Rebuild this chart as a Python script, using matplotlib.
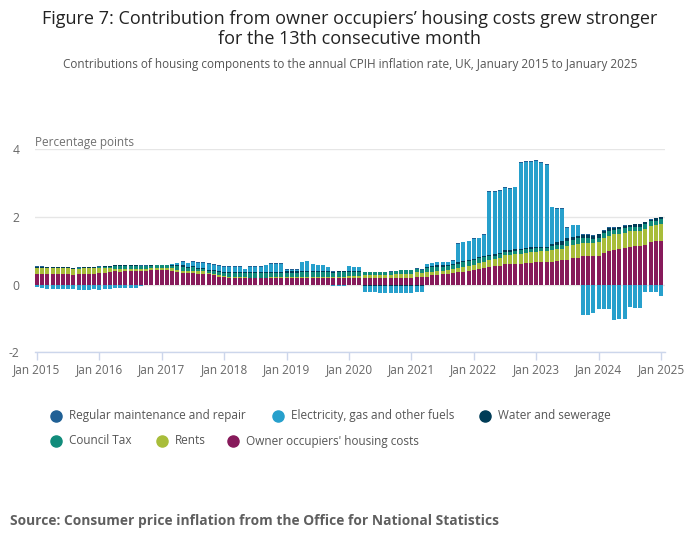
import matplotlib
matplotlib.use("Agg")
import matplotlib.pyplot as plt
import numpy as np
from matplotlib.lines import Line2D

plt.rcParams['font.family'] = ['Open Sans', 'DejaVu Sans']

# ---------------- data (percentage points), Jan 2015 .. Jan 2025 ----------------
tick_labels = ["Jan 2015", "Jan 2016", "Jan 2017", "Jan 2018", "Jan 2019", "Jan 2020",
               "Jan 2021", "Jan 2022", "Jan 2023", "Jan 2024", "Jan 2025"]

owner_occupiers = [
    0.32, 0.32, 0.32, 0.32, 0.32, 0.32, 0.32, 0.29, 0.30, 0.32, 0.32, 0.32,
    0.34, 0.35, 0.38, 0.41, 0.38, 0.40, 0.40, 0.40, 0.40, 0.41, 0.43, 0.44,
    0.44, 0.44, 0.41, 0.36, 0.35, 0.35, 0.35, 0.32, 0.32, 0.30, 0.27, 0.24,
    0.23, 0.21, 0.21, 0.21, 0.20, 0.19, 0.19, 0.19, 0.19, 0.20, 0.20, 0.20,
    0.20, 0.20, 0.20, 0.20, 0.20, 0.20, 0.20, 0.20, 0.20, 0.20, 0.20, 0.20,
    0.20, 0.20, 0.20, 0.20, 0.20, 0.20, 0.19, 0.19, 0.20, 0.20, 0.20, 0.20,
    0.20, 0.24, 0.24, 0.24, 0.27, 0.27, 0.30, 0.30, 0.33, 0.36, 0.38, 0.41,
    0.44, 0.47, 0.50, 0.53, 0.55, 0.56, 0.61, 0.61, 0.61, 0.61, 0.64, 0.64,
    0.67, 0.67, 0.67, 0.68, 0.70, 0.73, 0.73, 0.79, 0.79, 0.85, 0.85, 0.85,
    0.85, 0.94, 1.00, 1.03, 1.06, 1.09, 1.12, 1.14, 1.14, 1.17, 1.25, 1.29,
    1.29]

rents = [
    0.16, 0.16, 0.16, 0.16, 0.16, 0.16, 0.16, 0.16, 0.16, 0.16, 0.16, 0.16,
    0.15, 0.15, 0.12, 0.06, 0.08, 0.07, 0.07, 0.06, 0.06, 0.06, 0.06, 0.05,
    0.05, 0.05, 0.08, 0.06, 0.06, 0.06, 0.06, 0.07, 0.07, 0.03, 0.03, 0.03,
    0.02, 0.02, 0.02, 0.02, 0.02, 0.02, 0.02, 0.02, 0.02, 0.02, 0.02, 0.02,
    0.04, 0.04, 0.04, 0.04, 0.04, 0.04, 0.04, 0.04, 0.04, 0.04, 0.04, 0.04,
    0.05, 0.05, 0.05, 0.07, 0.07, 0.07, 0.08, 0.08, 0.08, 0.10, 0.12, 0.12,
    0.12, 0.12, 0.11, 0.12, 0.11, 0.12, 0.10, 0.12, 0.12, 0.12, 0.13, 0.13,
    0.13, 0.18, 0.18, 0.19, 0.21, 0.22, 0.27, 0.27, 0.30, 0.30, 0.30, 0.32,
    0.30, 0.32, 0.33, 0.33, 0.35, 0.33, 0.41, 0.38, 0.42, 0.38, 0.38, 0.38,
    0.40, 0.44, 0.45, 0.46, 0.45, 0.44, 0.46, 0.44, 0.45, 0.47, 0.49, 0.47,
    0.50]

council_tax = [
    0.02, 0.02, 0.02, 0.02, 0.02, 0.02, 0.02, 0.02, 0.02, 0.02, 0.02, 0.02,
    0.02, 0.02, 0.03, 0.08, 0.08, 0.08, 0.08, 0.08, 0.08, 0.07, 0.07, 0.08,
    0.08, 0.08, 0.07, 0.12, 0.11, 0.09, 0.11, 0.08, 0.08, 0.08, 0.09, 0.10,
    0.10, 0.12, 0.12, 0.12, 0.12, 0.12, 0.12, 0.12, 0.12, 0.12, 0.12, 0.12,
    0.11, 0.11, 0.11, 0.12, 0.12, 0.12, 0.12, 0.12, 0.12, 0.10, 0.12, 0.12,
    0.11, 0.11, 0.11, 0.10, 0.10, 0.10, 0.10, 0.10, 0.10, 0.10, 0.10, 0.11,
    0.11, 0.11, 0.09, 0.13, 0.14, 0.14, 0.13, 0.13, 0.13, 0.14, 0.15, 0.15,
    0.16, 0.13, 0.14, 0.12, 0.10, 0.13, 0.08, 0.08, 0.09, 0.10, 0.10, 0.10,
    0.11, 0.08, 0.08, 0.12, 0.11, 0.12, 0.16, 0.15, 0.16, 0.14, 0.15, 0.13,
    0.14, 0.14, 0.14, 0.12, 0.13, 0.14, 0.11, 0.13, 0.12, 0.14, 0.13, 0.13,
    0.14]

water_sewerage = [
    0.03, 0.03, 0.02, 0.02, 0.02, 0.02, 0.02, 0.02, 0.02, 0.02, 0.02, 0.02,
    0.02, 0.02, 0.02, 0.03, 0.03, 0.03, 0.03, 0.03, 0.02, 0.02, 0.01, 0.01,
    0.01, 0.01, 0.03, 0.04, 0.05, 0.03, 0.03, 0.03, 0.03, 0.03, 0.04, 0.03,
    0.03, 0.02, 0.02, 0.02, 0.02, 0.03, 0.03, 0.03, 0.03, 0.03, 0.03, 0.03,
    0.04, 0.04, 0.04, 0.04, 0.04, 0.04, 0.04, 0.04, 0.04, 0.04, 0.04, 0.04,
    0.04, 0.04, 0.04, -0.03, -0.03, -0.03, -0.03, -0.03, -0.03, -0.03, -0.03, -0.03,
    -0.03, -0.03, -0.03, 0.03, 0.03, 0.04, 0.04, 0.03, 0.04, 0.04, 0.03, 0.04,
    0.04, 0.03, 0.04, 0.04, 0.04, 0.03, 0.05, 0.06, 0.04, 0.04, 0.04, 0.04,
    0.03, 0.03, 0.03, 0.07, 0.09, 0.10, 0.08, 0.08, 0.07, 0.10, 0.09, 0.08,
    0.11, 0.07, 0.09, 0.07, 0.06, 0.07, 0.07, 0.07, 0.08, 0.06, 0.05, 0.07,
    0.06]

electricity_gas = [
    -0.06, -0.10, -0.13, -0.13, -0.13, -0.13, -0.13, -0.13, -0.15, -0.15, -0.15, -0.13,
    -0.15, -0.12, -0.12, -0.09, -0.09, -0.09, -0.09, -0.09, -0.03, -0.02, -0.02, 0.00,
    0.00, 0.00, 0.02, 0.06, 0.11, 0.11, 0.13, 0.15, 0.15, 0.18, 0.16, 0.16,
    0.15, 0.16, 0.16, 0.16, 0.10, 0.17, 0.17, 0.17, 0.22, 0.25, 0.25, 0.25,
    0.05, 0.05, 0.05, 0.26, 0.30, 0.21, 0.18, 0.18, 0.11, -0.03, -0.03, -0.03,
    0.14, 0.12, 0.12, -0.18, -0.18, -0.18, -0.22, -0.22, -0.22, -0.22, -0.22, -0.22,
    -0.22, -0.18, -0.18, 0.08, 0.08, 0.09, 0.09, 0.08, 0.09, 0.55, 0.57, 0.56,
    0.58, 0.56, 0.62, 1.86, 1.84, 1.84, 1.85, 1.82, 1.84, 2.55, 2.53, 2.51,
    2.53, 2.50, 2.44, 1.08, 1.00, 0.96, 0.30, 0.35, 0.31, -0.89, -0.89, -0.85,
    -0.73, -0.71, -0.71, -1.06, -1.03, -1.03, -0.66, -0.68, -0.68, -0.21, -0.21, -0.21,
    -0.33]

maintenance_repair = [
    0.01, 0.01, 0.01, 0.01, 0.01, 0.01, 0.01, 0.01, 0.01, 0.01, 0.01, 0.01,
    0.01, 0.01, 0.01, 0.01, 0.01, 0.01, 0.01, 0.01, 0.01, 0.01, 0.01, 0.01,
    0.01, 0.01, 0.01, 0.01, 0.01, 0.01, 0.01, 0.01, 0.01, 0.01, 0.01, 0.01,
    0.01, 0.01, 0.01, 0.01, 0.01, 0.01, 0.01, 0.01, 0.01, 0.01, 0.01, 0.01,
    0.01, 0.01, 0.01, 0.01, 0.01, 0.01, 0.01, 0.01, 0.01, 0.01, 0.01, 0.01,
    0.01, 0.01, 0.01, 0.01, 0.01, 0.01, 0.01, 0.01, 0.01, 0.01, 0.01, 0.01,
    0.01, 0.01, 0.01, 0.01, 0.01, 0.01, 0.01, 0.01, 0.01, 0.01, 0.01, 0.01,
    0.02, 0.02, 0.02, 0.02, 0.02, 0.02, 0.02, 0.02, 0.02, 0.03, 0.03, 0.03,
    0.03, 0.03, 0.03, 0.02, 0.02, 0.02, 0.02, 0.02, 0.02, 0.02, 0.02, 0.02,
    0.01, 0.01, 0.01, 0.01, 0.01, 0.01, 0.01, 0.01, 0.01, 0.01, 0.01, 0.01,
    0.01]

# ---------------- style ----------------
C_MAINT = "#206095"
C_ELEC = "#27a0cc"
C_WATER = "#003c57"
C_CTAX = "#118c7b"
C_RENTS = "#a8bd3a"
C_OOH = "#871a5b"

stack_order = [
    (owner_occupiers, C_OOH),
    (rents, C_RENTS),
    (council_tax, C_CTAX),
    (water_sewerage, C_WATER),
    (electricity_gas, C_ELEC),
    (maintenance_repair, C_MAINT),
]

W, H = 700, 549
fig = plt.figure(figsize=(W / 100, H / 100), dpi=100)
fig.patch.set_facecolor("white")

ax_left, ax_right, ax_top, ax_bottom = 35, 665, 149.3, 352.3
ax = fig.add_axes([ax_left / W, 1 - ax_bottom / H, (ax_right - ax_left) / W, (ax_bottom - ax_top) / H])

n = len(owner_occupiers)
x = np.arange(n)
pos = np.zeros(n)
neg = np.zeros(n)
for vals, color in stack_order:
    v = np.array(vals, dtype=float)
    bottom = np.where(v >= 0, pos, neg)
    ax.bar(x, v, bottom=bottom, width=0.78, color=color, linewidth=0, zorder=2)
    pos += np.clip(v, 0, None)
    neg += np.clip(v, None, 0)

ax.set_xlim(-0.385, 120.77)
ax.set_ylim(-2, 4)
ax.set_yticks([-2, 0, 2, 4])
ax.set_yticklabels(["-2", "0", "2", "4"])
ax.set_xticks(np.arange(0, n, 12))
ax.set_xticklabels(tick_labels)

ax.yaxis.grid(True, color="#e6e6e6", linewidth=1)
ax.set_axisbelow(True)
for s in ["top", "right", "left"]:
    ax.spines[s].set_visible(False)
ax.spines["bottom"].set_color("#ccd6eb")
ax.spines["bottom"].set_linewidth(1)
ax.spines["bottom"].set_zorder(3)

ax.tick_params(axis="y", length=0, pad=11, labelsize=8.7, labelcolor="#666666")
ax.tick_params(axis="x", length=5.8, width=1, color="#ccd6eb", pad=2,
               labelsize=8.5, labelcolor="#666666")

# ---------------- texts ----------------
fig.text(0.5, 1 - 29 / H,
         "Figure 7: Contribution from owner occupiers\u2019 housing costs grew stronger\nfor the 13th consecutive month",
         ha="center", va="center", fontsize=13, color="#222222", linespacing=1.2)
fig.text(0.5, 1 - 64 / H,
         "Contributions of housing components to the annual CPIH inflation rate, UK, January 2015 to January 2025",
         ha="center", va="center", fontsize=8.5, color="#555555")
fig.text(35 / W, 1 - 143 / H, "Percentage points", ha="left", va="center",
         fontsize=8.5, color="#707070")
fig.text(10 / W, 1 - 521 / H,
         "Source: Consumer price inflation from the Office for National Statistics",
         ha="left", va="center", fontsize=9.9, fontweight="bold", color="#5f5f5f")

legend_items = [
    (56, 416, "Regular maintenance and repair", C_MAINT),
    (278, 416, "Electricity, gas and other fuels", C_ELEC),
    (485, 416, "Water and sewerage", C_WATER),
    (56, 441, "Council Tax", C_CTAX),
    (162, 441, "Rents", C_RENTS),
    (233, 441, "Owner occupiers' housing costs", C_OOH),
]
for lx, ly, label, color in legend_items:
    fig.add_artist(Line2D([lx / W], [1 - ly / H], transform=fig.transFigure,
                          marker="o", markersize=8, color=color, linestyle="none"))
    fig.text((lx + 13) / W, 1 - ly / H, label, ha="left", va="center",
             fontsize=8.5, color="#555555")

fig.savefig("out.png", dpi=100, facecolor="white")
